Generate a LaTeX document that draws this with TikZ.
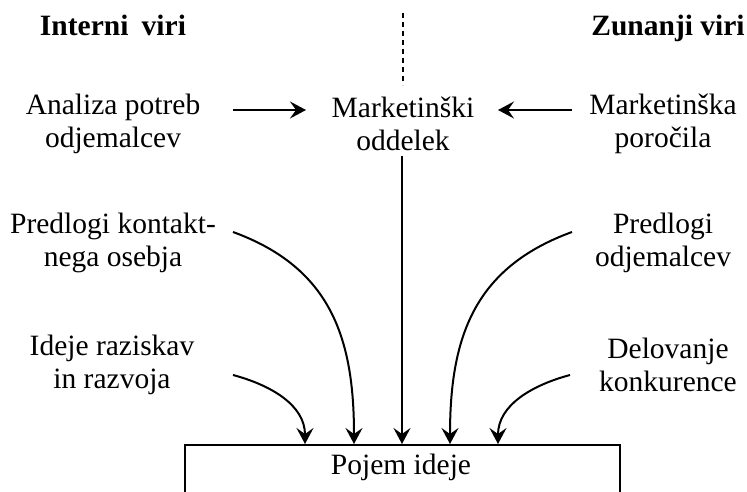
\documentclass[tikz,border=0pt]{standalone}
\usepackage{fontspec}
\setmainfont{Liberation Serif}
\usetikzlibrary{arrows.meta}
\begin{document}
\begin{tikzpicture}[x=1pt,y=-1pt,
  txt/.style={inner sep=0pt,align=center,font=\fontsize{29.5}{33}\selectfont},
  head/.style={inner sep=0pt,anchor=base,font=\fontsize{29.5}{33}\selectfont\bfseries},
  conn/.style={line width=2pt,-{Stealth[length=16pt,width=17pt,inset=6pt]}},
  ]
\clip (0,0) rectangle (747,492);
\fill[white] (0,0) rectangle (747,492);
\node[head] (hint) at (113,36) {Interni\hspace{0.45em}viri};
\node[head] (hext) at (668,36) {Zunanji viri};
\coordinate (dtop) at (403,13);
\coordinate (dbot) at (403,85);
\draw[line width=2pt,dash pattern=on 5pt off 4pt] (dtop) -- (dbot);

\node[txt] (ana) at (113,124) {Analiza potreb\\odjemalcev};
\node[txt] (mkt) at (403,124) {Marketinški\\oddelek};
\node[txt] (por) at (663,124) {Marketinška\\poročila};

\node[txt] (kon) at (113,243) {Predlogi kontakt-\\nega osebja};
\node[txt] (odj) at (663,243) {Predlogi\\odjemalcev};

\node[txt] (ide) at (112,365) {Ideje raziskav\\in razvoja};
\node[txt] (del) at (668,365) {Delovanje\\konkurence};

\draw[line width=1.8pt] (185,445) rectangle (620,510);
\node[inner sep=0pt,anchor=base,font=\fontsize{29.5}{33}\selectfont] (poj) at (401,474) {Pojem ideje};

\coordinate (a1s) at (233,110);
\coordinate (a1e) at (306,110);
\draw[conn] (a1s) -- (a1e);
\coordinate (a2s) at (572,110);
\coordinate (a2e) at (498,110);
\draw[conn] (a2s) -- (a2e);

\coordinate (vs) at (402,156);
\coordinate (ve) at (402,444);
\draw[conn] (vs) -- (ve);

\coordinate (c1s) at (233,232);
\coordinate (c1e) at (354,444);
\draw[conn] (c1s) to[out=-20,in=90,looseness=1.1] (c1e);
\coordinate (c2s) at (233,375);
\coordinate (c2e) at (305,444);
\draw[conn] (c2s) to[out=-15,in=90] (c2e);
\coordinate (c3s) at (572,232);
\coordinate (c3e) at (450,444);
\draw[conn] (c3s) to[out=200,in=90,looseness=1.1] (c3e);
\coordinate (c4s) at (570,375);
\coordinate (c4e) at (498,444);
\draw[conn] (c4s) to[out=195,in=90] (c4e);
\end{tikzpicture}
\end{document}
